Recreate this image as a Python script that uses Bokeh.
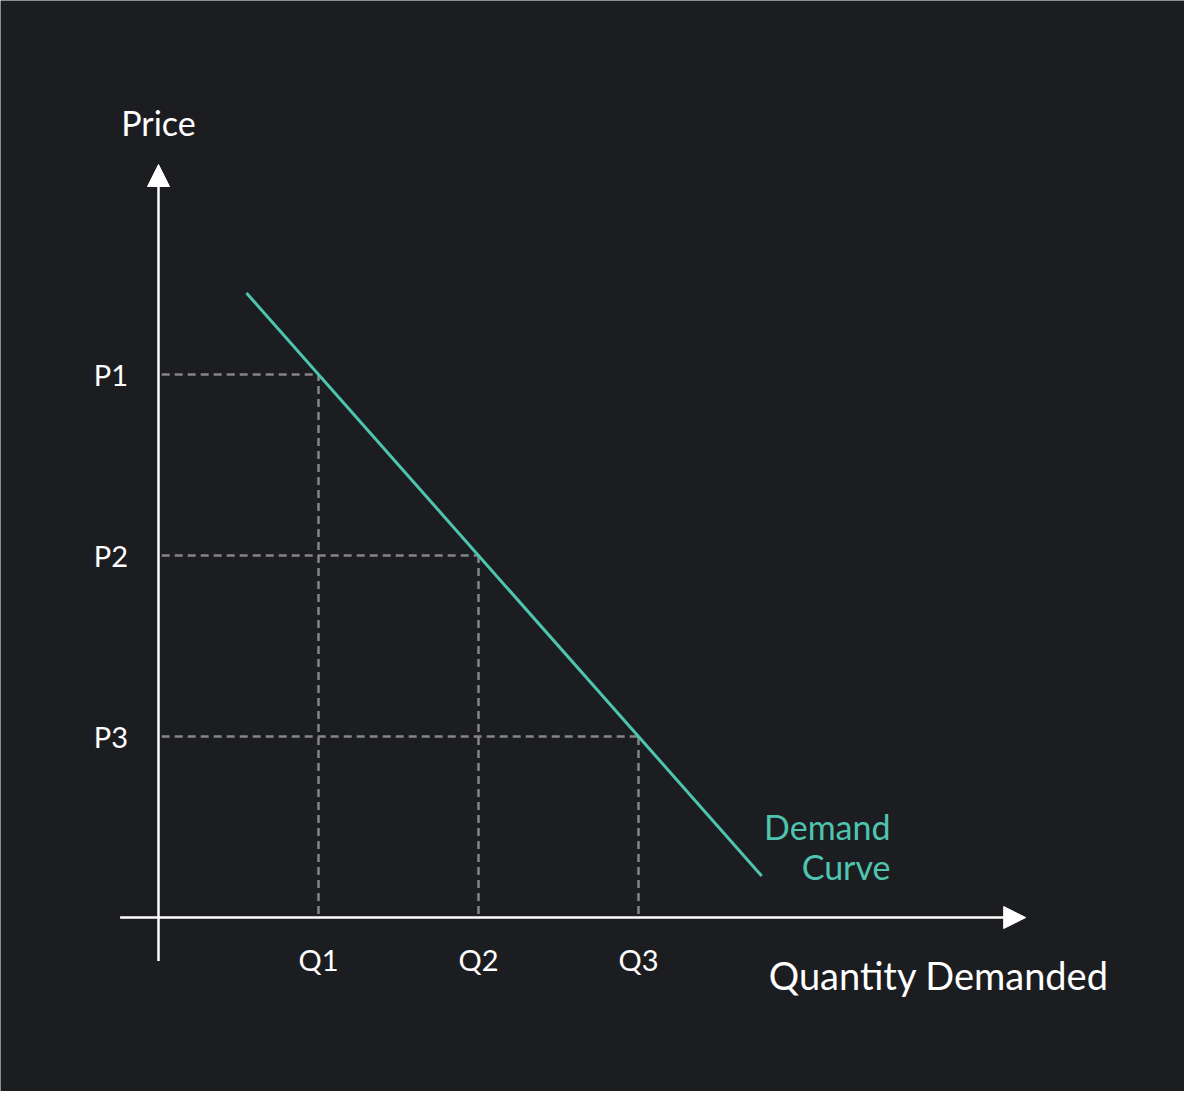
from bokeh.core.properties import value
from bokeh.embed import file_html
from bokeh.models import Arrow, NormalHead
from bokeh.plotting import figure
from bokeh.resources import INLINE

# data
quantities = [1, 2, 3]
prices = [3, 2, 1]
q_labels = ["Q1", "Q2", "Q3"]
p_labels = ["P1", "P2", "P3"]
curve_q = [0.55, 3.77]
curve_p = [3.45, 0.23]

BG = "#1c1d21"
TEAL = "#4fc4ae"
WHITE = "#ffffff"
GRID = "#858585"
FONT = value("Lato")

p = figure(width=1184, height=1091, output_backend="svg", toolbar_location=None,
           x_range=(-0.9875, 6.4125), y_range=(-0.961, 5.066),
           min_border=0, background_fill_color=BG, border_fill_color=BG)
p.axis.visible = False
p.grid.visible = False
p.outline_line_color = None

# dashed guides from the axes to the curve
for q, pr in zip(quantities, prices):
    p.line([0.02, q], [pr, pr], line_color=GRID, line_width=2.5, line_dash="8 5")
    p.line([q, q], [0.02, pr], line_color=GRID, line_width=2.5, line_dash="8 5")

# demand curve
p.line(curve_q, curve_p, line_color=TEAL, line_width=3)

# axes with arrows
head = dict(size=22, fill_color=WHITE, line_color=WHITE)
p.add_layout(Arrow(end=NormalHead(**head), x_start=0, y_start=-0.24, x_end=0, y_end=4.16,
                   line_color=WHITE, line_width=2.5))
p.add_layout(Arrow(end=NormalHead(**head), x_start=-0.24, y_start=0, x_end=5.42, y_end=0,
                   line_color=WHITE, line_width=2.5))

# tick labels
p.text(x=[-0.19] * 3, y=prices, text=p_labels, text_color=WHITE, text_font=FONT,
       text_font_size="29px", text_align="right", text_baseline="middle")
p.text(x=quantities, y=[-0.23] * 3, text=q_labels, text_color=WHITE, text_font=FONT,
       text_font_size="29px", text_align="center", text_baseline="middle")

# axis titles
p.text(x=[0], y=[4.39], text=["Price"], text_color=WHITE, text_font=FONT,
       text_font_size="34px", text_align="center", text_baseline="middle")
p.text(x=[5.94], y=[-0.32], text=["Quantity Demanded"], text_color=WHITE, text_font=FONT,
       text_font_size="38px", text_align="right", text_baseline="middle")

# curve label
p.text(x=[4.575, 4.575], y=[0.503, 0.28], text=["Demand", "Curve"], text_color=TEAL,
       text_font=FONT, text_font_size="34px", text_align="right", text_baseline="middle")

open("out.html", "w").write(file_html(p, INLINE))
